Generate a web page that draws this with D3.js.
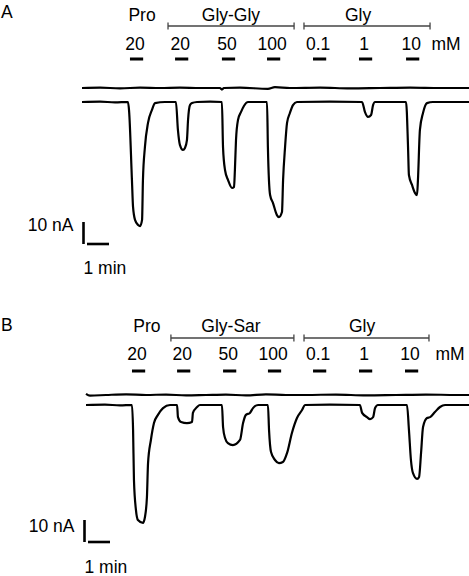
<!DOCTYPE html>
<html>
<head>
<meta charset="utf-8">
<script src="https://cdn.jsdelivr.net/npm/d3@7"></script>
<style>
  body { margin: 0; background: #fff; }
  text { font-family: "Liberation Sans", Arial, sans-serif; fill: #000; font-size: 17.5px; }
</style>
</head>
<body>
<svg id="chart"></svg>
<script>
// concentrations applied (mM), same sequence in both panels
const concLabels = ["20", "20", "50", "100", "0.1", "1", "10"]

// substance headers
const headerA = ["Pro", "Gly-Gly", "Gly"]
const headerB = ["Pro", "Gly-Sar", "Gly"]
const headerPosA = [2.73, 6.77, 12.55]   // min
const headerPosB = [2.77, 6.59, 12.55]

// application onsets (min) and duration
const pulseStartA = [2.18, 4.23, 6.36, 8.41, 10.5, 12.59, 14.73]
const pulseStartB = [2.09, 4.14, 6.23, 8.27, 10.32, 12.41, 14.5]
const pulseDur = 0.6

// brackets grouping the dipeptide / glycine series (min)
const bracketA = [[3.91, 9.64], [10.09, 15.82]]
const bracketB = [[3.86, 9.45], [9.91, 15.59]]

// current traces [time (min), current (nA)]
const traceA = [
  [0, 0], [0.82, 0.2], [1.5, -0.2], [2.09, 0], [2.14, -4], [2.27, -35.5], [2.32, -47.7], [2.41, -53.6],
  [2.55, -55.9], [2.64, -56.4], [2.73, -53.6], [2.77, -35.5], [2.86, -20.5], [3.0, -9.5],
  [3.18, -3.6], [3.32, -0.5], [3.77, 0], [4.27, 0], [4.36, -12.7], [4.45, -19.5], [4.59, -21.8],
  [4.68, -20.9], [4.77, -17.3], [4.82, -8.2], [4.91, -1.4], [5.0, -0.5], [5.23, 0], [5.82, 0.2],
  [6.36, 0], [6.41, -20.5], [6.5, -30.9], [6.64, -35.5], [6.82, -39.1], [6.91, -38.6], [6.95, -30.9],
  [7.0, -17.3], [7.09, -8.2], [7.23, -4.5], [7.36, -1.8], [7.55, 0], [8.41, 0], [8.45, -20.5],
  [8.55, -42.3], [8.68, -45.9], [8.86, -51.4], [8.95, -52.3], [9.09, -50.0], [9.14, -35.5],
  [9.23, -20.5], [9.32, -9.5], [9.45, -5.0], [9.59, -1.4], [9.77, 0], [11.27, 0.2], [12.73, 0],
  [12.86, -4.5], [13.0, -6.8], [13.14, -5.9], [13.23, -1.4], [13.32, 0], [14.73, 0], [14.82, -20.5],
  [14.86, -33.2], [15.0, -37.7], [15.14, -41.4], [15.23, -42.3], [15.27, -35.5], [15.36, -12.7],
  [15.5, -5.0], [15.68, -0.5], [15.95, 0], [17.59, 0]
]
const controlA = [
  [0, 0], [0.82, 0.2], [1.73, -0.2], [2.64, 0.2], [3.55, 0], [4.45, 0.2], [5.36, 0], [6.27, 0],
  [6.36, -0.7], [6.45, 0], [7.18, 0.2], [8.45, -0.4], [8.77, 0.4], [9.45, 0], [10.82, 0.2],
  [12.18, -0.2], [13.55, 0], [14.91, 0.2], [16.27, 0], [17.59, 0]
]
const traceB = [
  [0, 0], [0.86, 0.2], [1.55, -0.2], [2.09, 0], [2.14, -11.4], [2.18, -34.1], [2.27, -47.7],
  [2.36, -52.3], [2.59, -53.6], [2.68, -50.9], [2.77, -41.8], [2.82, -26.4], [2.95, -15.9],
  [3.09, -8.2], [3.27, -4.5], [3.5, -1.4], [3.82, 0], [4.14, 0], [4.18, -5.5], [4.32, -7.7],
  [4.59, -8.2], [4.82, -7.7], [4.86, -3.6], [5.05, -0.9], [5.18, 0], [6.18, 0], [6.23, -10.0],
  [6.32, -15.0], [6.45, -17.3], [6.68, -18.2], [7.0, -15.9], [7.14, -8.2], [7.27, -4.5],
  [7.45, -3.6], [7.59, -1.4], [7.82, 0], [8.27, 0], [8.32, -11.4], [8.41, -21.4], [8.59, -25.0],
  [8.77, -26.4], [8.95, -25.9], [9.14, -21.8], [9.36, -12.7], [9.59, -5.9], [9.82, -2.3],
  [9.95, 0], [11.09, 0.2], [12.45, 0], [12.55, -3.6], [12.77, -5.5], [12.91, -6.4], [13.05, -5.5],
  [13.14, -1.4], [13.27, 0], [14.59, 0], [14.68, -11.4], [14.77, -25.0], [14.86, -30.9],
  [15.05, -33.6], [15.14, -32.7], [15.23, -21.8], [15.32, -10.0], [15.5, -5.9], [15.64, -5.5],
  [15.86, -3.2], [16.09, -0.9], [16.32, 0], [17.41, 0]
]
const controlB = [
  [0, 0.5], [0.18, -0.3], [0.91, 0], [1.82, 0.3], [2.73, 0], [3.64, 0.2], [4.55, -0.2], [5.45, 0],
  [6.36, 0.2], [7.27, -0.2], [8.18, 0.3], [9.09, 0], [10, 0], [11.36, 0.2], [12.73, -0.2],
  [14.09, 0], [15.45, 0.2], [16.82, 0], [17.41, 0]
]

const width = 469, height = 576
const pxPerMin = 22, pxPerNA = 2.2

const svg = d3.select("#chart")
  .attr("width", width)
  .attr("height", height)

svg.append("rect").attr("width", width).attr("height", height).attr("fill", "#fff")

const panels = [
  {letter: "A", letterY: 18, x0: 82, base: 102, ctrlOffset: 6.36, headerY: 21, bracketY: 26,
   concY: 50, barY: 59, headers: headerA, headerPos: headerPosA, starts: pulseStartA,
   brackets: bracketA, trace: traceA, control: controlA,
   sbX: 83.5, sbTop: 222, nAY: 231, minY: 274},
  {letter: "B", letterY: 331, x0: 86, base: 405, ctrlOffset: 4.55, headerY: 332, bracketY: 338,
   concY: 360, barY: 371, headers: headerB, headerPos: headerPosB, starts: pulseStartB,
   brackets: bracketB, trace: traceB, control: controlB,
   sbX: 84.5, sbTop: 520, nAY: 532, minY: 573}
]

panels.forEach(p => {
  let x = d3.scaleLinear().domain([0, 1]).range([p.x0, p.x0 + pxPerMin])
  let y = d3.scaleLinear().domain([0, -1]).range([p.base, p.base + pxPerNA])

  let g = svg.append("g")

  g.append("text")
    .attr("x", 1).attr("y", p.letterY)
    .text(p.letter)

  // headers
  g.selectAll(".hdr").data(p.headers).enter()
    .append("text")
    .attr("class", "hdr")
    .attr("x", (d, i) => x(p.headerPos[i]))
    .attr("y", p.headerY)
    .attr("text-anchor", "middle")
    .text(d => d)

  // brackets
  let br = g.selectAll(".br").data(p.brackets).enter().append("g").attr("class", "br")
  br.append("line")
    .attr("x1", d => x(d[0])).attr("x2", d => x(d[1]))
    .attr("y1", p.bracketY).attr("y2", p.bracketY)
  br.append("line")
    .attr("x1", d => x(d[0])).attr("x2", d => x(d[0]))
    .attr("y1", p.bracketY - 3.5).attr("y2", p.bracketY + 3.5)
  br.append("line")
    .attr("x1", d => x(d[1])).attr("x2", d => x(d[1]))
    .attr("y1", p.bracketY - 3.5).attr("y2", p.bracketY + 3.5)
  br.selectAll("line").attr("stroke", "#444").attr("stroke-width", 1.3)

  // concentration labels
  g.selectAll(".conc").data(concLabels).enter()
    .append("text")
    .attr("class", "conc")
    .attr("x", (d, i) => x(p.starts[i] + pulseDur / 2) - 1.5)
    .attr("y", p.concY)
    .attr("text-anchor", "middle")
    .text(d => d)

  g.append("text")
    .attr("x", x(16.55)).attr("y", p.concY)
    .attr("text-anchor", "middle")
    .text("mM")

  // application bars
  g.selectAll(".pulse").data(p.starts).enter()
    .append("rect")
    .attr("class", "pulse")
    .attr("x", d => x(d))
    .attr("width", x(pulseDur) - x(0))
    .attr("y", p.barY - 1.5)
    .attr("height", 3)
    .attr("fill", "#000")

  // traces
  let line = d3.line()
    .x(d => x(d[0]))
    .y(d => y(d[1]))
    .curve(d3.curveMonotoneX)

  g.append("path")
    .datum(p.control.map(d => [d[0], d[1] + p.ctrlOffset]))
    .attr("d", line)
    .attr("fill", "none")
    .attr("stroke", "#000")
    .attr("stroke-width", 2.2)

  g.append("path")
    .datum(p.trace)
    .attr("d", line)
    .attr("fill", "none")
    .attr("stroke", "#000")
    .attr("stroke-width", 2.2)
    .attr("stroke-linejoin", "round")

  // scale bars: 10 nA and 1 min
  let barLen = y(-10) - y(0)
  g.append("line")
    .attr("x1", p.sbX).attr("x2", p.sbX)
    .attr("y1", p.sbTop).attr("y2", p.sbTop + barLen)
    .attr("stroke", "#000").attr("stroke-width", 2.6)
  g.append("line")
    .attr("x1", p.sbX + 3.5).attr("x2", p.sbX + 3.5 + x(1) - x(0))
    .attr("y1", p.sbTop + barLen).attr("y2", p.sbTop + barLen)
    .attr("stroke", "#000").attr("stroke-width", 2.6)

  g.append("text")
    .attr("x", p.sbX - 10).attr("y", p.nAY)
    .attr("text-anchor", "end")
    .text("10 nA")
  g.append("text")
    .attr("x", p.sbX).attr("y", p.minY)
    .text("1 min")
})
</script>
</body>
</html>
